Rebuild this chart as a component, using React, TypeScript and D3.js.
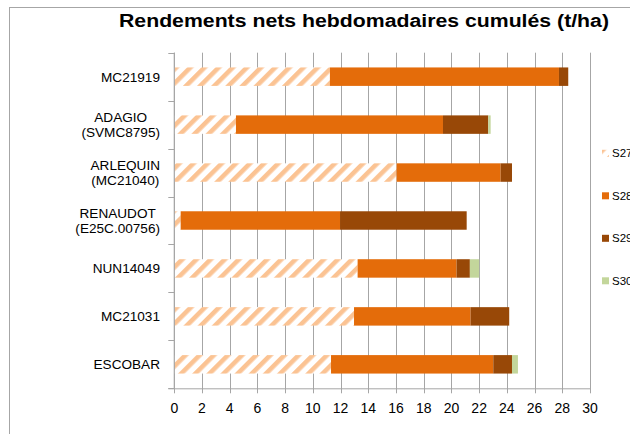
import React from "react";
import * as d3 from "d3";

const categories: string[][] = [
  ["MC21919"],
  ["ADAGIO", "(SVMC8795)"],
  ["ARLEQUIN", "(MC21040)"],
  ["RENAUDOT", "(E25C.00756)"],
  ["NUN14049"],
  ["MC21031"],
  ["ESCOBAR"],
];
const seriesNames = ["S27", "S28", "S29", "S30"];
const s27 = [11.23, 4.45, 16.04, 0.46, 13.23, 12.97, 11.31];
const s28 = [16.53, 14.94, 7.51, 11.5, 7.14, 8.41, 11.71];
const s29 = [0.67, 3.27, 0.82, 9.14, 0.96, 2.79, 1.35];
const s30 = [0, 0.17, 0, 0, 0.67, 0, 0.43];
const xTicks = [0, 2, 4, 6, 8, 10, 12, 14, 16, 18, 20, 22, 24, 26, 28, 30];
const title = "Rendements nets hebdomadaires cumulés (t/ha)";

const FONT = "'Liberation Sans', Arial, sans-serif";
const colors: Record<string, string> = {
  S27: "url(#hatch27)",
  S28: "#E46C0A",
  S29: "#984807",
  S30: "#C3D69B",
};

let measureCtx: CanvasRenderingContext2D | null = null;
function textWidth(t: string, size: number) {
  if (!measureCtx) {
    const c = document.createElement("canvas");
    measureCtx = c.getContext("2d");
  }
  if (!measureCtx) return t.length * size * 0.6;
  measureCtx.font = `${size}px ${FONT}`;
  return measureCtx.measureText(t).width;
}

export default function App() {
  const W = 630,
    H = 434;
  const left = 174.3,
    right = 590,
    top = 52.7,
    bottom = 388.3;

  const rows = categories.map((c, i) => ({
    key: String(i),
    S27: s27[i],
    S28: s28[i],
    S29: s29[i],
    S30: s30[i],
  }));
  const stacked = d3.stack<any>().keys(seriesNames)(rows);

  const x = d3.scaleLinear().domain([0, 30]).range([left, right]);
  const y = d3
    .scaleBand<string>()
    .domain(rows.map((r) => r.key))
    .range([top, bottom])
    .paddingInner(0.615)
    .paddingOuter(0.3075);
  const step = y.step();

  const gridColor = "#A6A6A6";
  const labelSize = 13.6;

  return (
    <svg
      width={W}
      height={H}
      style={{ position: "absolute", left: 0, top: 0, background: "#fff" }}
    >
      <defs>
        <pattern
          id="hatch27"
          patternUnits="userSpaceOnUse"
          width={10}
          height={10}
          patternTransform="rotate(45)"
        >
          <rect x={0} y={0} width={10} height={10} fill="#fff" />
          <rect x={0} y={0} width={4.6} height={10} fill="#FBC393" />
        </pattern>
      </defs>
      <rect x={0} y={0} width={W} height={H} fill="#fff" />
      <rect
        x={9.5}
        y={7.5}
        width={700}
        height={500}
        fill="none"
        stroke="#A6A6A6"
        strokeWidth={1}
      />
      <text
        x={119}
        y={27.3}
        fontFamily={FONT}
        fontWeight="bold"
        fontSize={17.5}
        textLength={490}
        lengthAdjust="spacingAndGlyphs"
        fill="#000"
      >
        {title}
      </text>

      {/* vertical gridlines */}
      {xTicks.map((t) => (
        <line
          key={"g" + t}
          x1={Math.round(x(t)) + 0.5}
          x2={Math.round(x(t)) + 0.5}
          y1={top}
          y2={bottom + 5}
          stroke={gridColor}
          strokeWidth={1}
        />
      ))}

      {/* bars */}
      {stacked.map((s) =>
        s.map((d, i) => {
          const w = x(d[1]) - x(d[0]);
          if (w <= 0) return null;
          return (
            <rect
              key={s.key + i}
              x={x(d[0])}
              y={y(String(i))}
              width={w}
              height={y.bandwidth()}
              fill={colors[s.key]}
            />
          );
        })
      )}

      {/* axes */}
      <line
        x1={left}
        x2={left}
        y1={top}
        y2={bottom}
        stroke={gridColor}
        strokeWidth={1.2}
      />
      <line
        x1={left - 6}
        x2={right}
        y1={bottom + 0.5}
        y2={bottom + 0.5}
        stroke={gridColor}
        strokeWidth={1}
      />
      {d3.range(categories.length + 1).map((i) => (
        <line
          key={"yt" + i}
          x1={left - 6}
          x2={left}
          y1={Math.round(top + i * step) + 0.5}
          y2={Math.round(top + i * step) + 0.5}
          stroke={gridColor}
          strokeWidth={1}
        />
      ))}

      {/* x tick labels */}
      {xTicks.map((t) => (
        <text
          key={"xl" + t}
          x={x(t)}
          y={413}
          textAnchor="middle"
          fontFamily={FONT}
          fontSize={14}
          fill="#000"
        >
          {t}
        </text>
      ))}

      {/* category labels */}
      {categories.map((lines, i) => {
        const c = (y(String(i)) as number) + y.bandwidth() / 2;
        const bw = Math.max(...lines.map((l) => textWidth(l, labelSize)));
        const cx = 160 - bw / 2;
        return lines.map((l, j) => {
          const baseY = lines.length === 1 ? c + 5 : c - 2.3 + j * 14.3;
          return (
            <text
              key={"cl" + i + "_" + j}
              x={cx}
              y={baseY}
              textAnchor="middle"
              fontFamily={FONT}
              fontSize={labelSize}
              fill="#000"
            >
              {l}
            </text>
          );
        });
      })}

      {/* legend */}
      {seriesNames.map((n, i) => {
        const cy = 153.3 + i * 42.5;
        return (
          <g key={"lg" + n}>
            <rect
              x={602}
              y={cy - 3.5}
              width={7}
              height={7}
              fill={colors[n]}
            />
            <text
              x={612}
              y={cy + 4}
              fontFamily={FONT}
              fontSize={11.5}
              fill="#000"
            >
              {n}
            </text>
          </g>
        );
      })}
    </svg>
  );
}
